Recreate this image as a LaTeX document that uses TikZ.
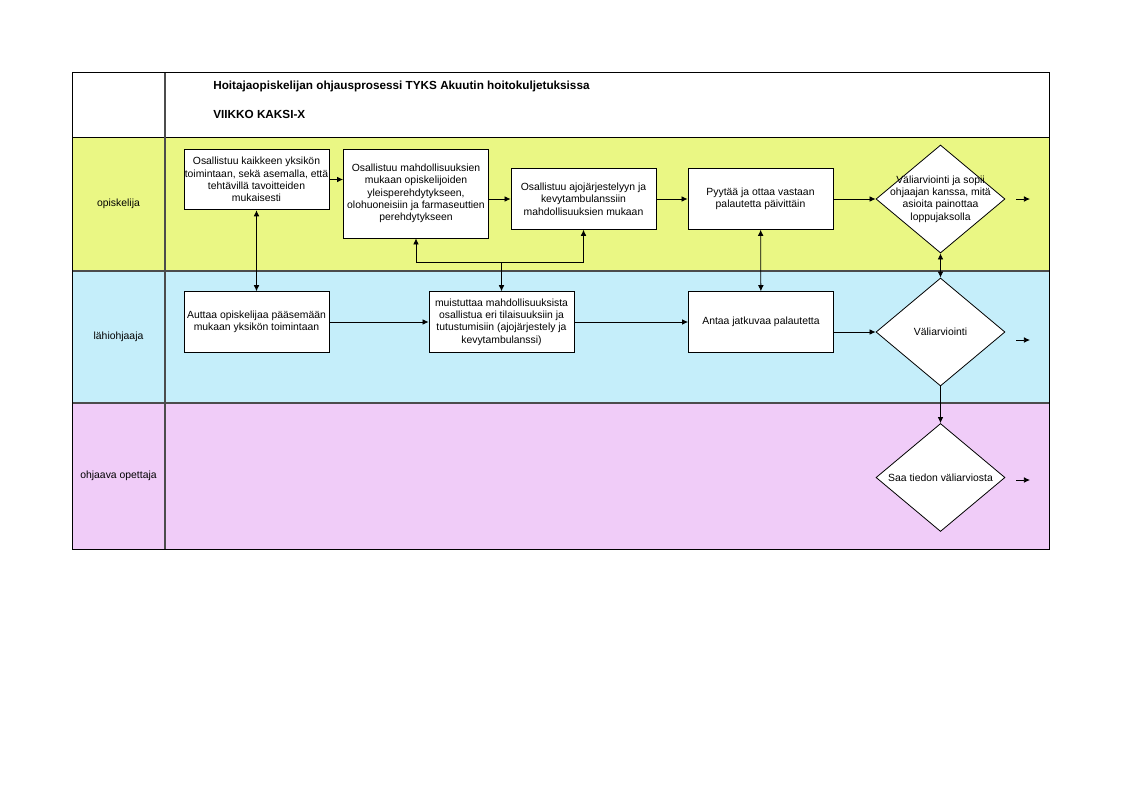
\documentclass[tikz,border=0pt]{standalone}
\usepackage{fontspec}
\setmainfont{Liberation Sans}
\usetikzlibrary{arrows.meta,shapes.geometric}
\definecolor{laneyellow}{RGB}{234,247,132}
\definecolor{laneblue}{RGB}{197,238,250}
\definecolor{lanepink}{RGB}{240,204,248}
\begin{document}
\begin{tikzpicture}[x=0.75pt,y=-0.75pt,>={Latex[length=1.6mm,width=1.5mm]},->,semithick,font=\fontsize{7.8}{9.3}\selectfont]
   \useasboundingbox (0,0) rectangle (1122,794);
   \fill[laneyellow] (72,137) rectangle (1049,271);
   \fill[laneblue] (72,271) rectangle (1049,403);
   \fill[lanepink] (72,403) rectangle (1049,549);
   \draw[-,gray!60!black,line width=1.5pt] (72,271) -- (1049,271) (72,403) -- (1049,403);
   \draw[-] (72,137) -- (1049,137);
   \draw[-,gray!60!black,line width=1pt] (165,72) -- (165,549);
   \draw[-] (72,72) rectangle (1049,549);
   \node[anchor=west,font=\fontsize{8.8}{10}\selectfont\bfseries] (title) at (208.5,86) {Hoitajaopiskelijan ohjausprosessi TYKS Akuutin hoitokuljetuksissa};
   \node[anchor=west,font=\fontsize{8.8}{10}\selectfont\bfseries] (week) at (208.5,114) {VIIKKO KAKSI-X};
   \node (opiskelija) at (118.5,204) {opiskelija};
   \node (lahiohjaaja) at (118.5,337) {lähiohjaaja};
   \node (opettaja) at (118.5,476) {ohjaava opettaja};
   \tikzstyle{box}=[rectangle, draw, fill=white, align=center, inner sep=0pt, minimum width=108.75pt, minimum height=45.5pt]
   \tikzstyle{choice}=[diamond, draw, fill=white, inner sep=0pt, minimum width=96.75pt, minimum height=81pt]
   \node[box] (A1) at (256.5,179.5) {Osallistuu kaikkeen yksikön\\toimintaan, sekä asemalla, että\\tehtävillä tavoitteiden\\mukaisesti};
   \node[box,minimum height=66.75pt] (A2) at (416,193.5) {Osallistuu mahdollisuuksien\\mukaan opiskelijoiden\\yleisperehdytykseen,\\olohuoneisiin ja farmaseuttien\\perehdytykseen};
   \node[box] (A3) at (583.5,199) {Osallistuu ajojärjestelyyn ja\\kevytambulanssiin\\mahdollisuuksien mukaan};
   \node[box] (A4) at (760.5,199) {Pyytää ja ottaa vastaan\\palautetta päivittäin};
   \node[choice,label={[align=center]center:Väliarviointi ja sopii\\ohjaajan kanssa, mitä\\asioita painottaa\\loppujaksolla}] (D1) at (940.5,199) {};
   \node[box] (B1) at (256.5,322) {Auttaa opiskelijaa pääsemään\\mukaan yksikön toimintaan};
   \node[box] (B2) at (501.5,322) {muistuttaa mahdollisuuksista\\osallistua eri tilaisuuksiin ja\\tutustumisiin (ajojärjestely ja\\kevytambulanssi)};
   \node[box] (B3) at (761,322) {Antaa jatkuvaa palautetta};
   \node[choice,label={center:Väliarviointi}] (D2) at (940.5,332) {};
   \node[choice,label={center:Saa tiedon väliarviosta}] (D3) at (940.5,477.5) {};
   \path (A1.east) edge (A1.east -| A2.west);
   \path (A3.west -| A2.east) edge (A3.west);
   \path (A3) edge (A4);
   \path (A4) edge (D1);
   \path[<->] (A1) edge (B1);
   \path[<->] (A4) edge (B3);
   \path[<->] (D1) edge (D2);
   \path (D2) edge (D3);
   \path (B1) edge (B2);
   \path (B2) edge (B3);
   \path (D2.west -| B3.east) edge (D2.west);
   \coordinate (fork) at (501.5,262);
   \draw[<-] (A2.south) |- (fork);
   \draw[<-] (A3.south) |- (fork);
   \draw (fork) -- (B2.north);
   \foreach \y/\n in {199/1,340/2,480/3} {
       \coordinate (out\n a) at (1016,\y);
       \coordinate (out\n b) at (1030,\y);
       \path (out\n a) edge (out\n b);
   }
\end{tikzpicture}
\end{document}
